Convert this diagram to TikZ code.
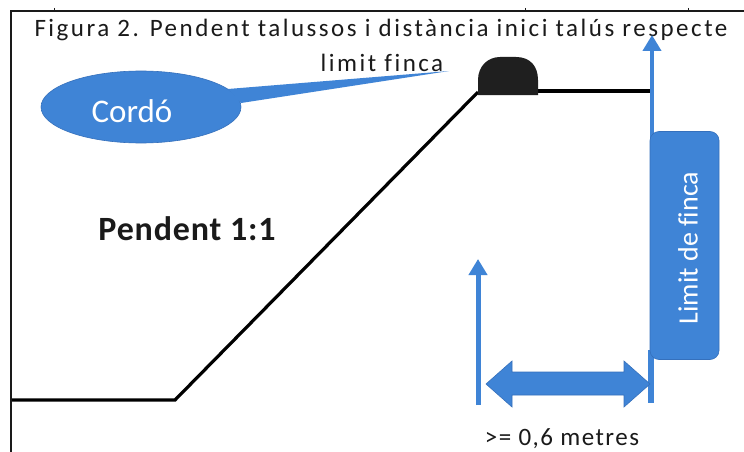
\documentclass[tikz,border=0pt]{standalone}
\usepackage{fontspec}
\setmainfont[Ligatures=NoCommon]{Carlito}
\newfontfamily\spaced[LetterSpace=10,Ligatures=NoCommon]{Carlito}
\newfontfamily\spacedb[LetterSpace=6,Ligatures=NoCommon]{Carlito}
\newfontfamily\spacedbold[LetterSpace=2.5,Ligatures=NoCommon]{Carlito Bold}
\usetikzlibrary{shapes.geometric,arrows.meta}
\definecolor{bluefill}{HTML}{3F84D6}
\definecolor{blueedge}{HTML}{3570BC}
\definecolor{inkc}{HTML}{1A1A1A}
\tikzset{
  frameline/.style={draw=inkc,line width=1.4pt},
  ground/.style={draw=black,line width=3.2pt,line join=miter},
  bluearrow/.style={draw=bluefill,line width=4.5pt,-{Triangle[length=16pt,width=18pt]}},
  blueline/.style={draw=bluefill,line width=6pt},
  bluebox/.style={fill=bluefill,draw=blueedge,line width=.6pt},
  lab/.style={text=inkc,inner sep=0pt},
  wlab/.style={text=white,inner sep=0pt},
}
\begin{document}
\begin{tikzpicture}[x=1pt,y=-1pt]
\useasboundingbox (0,0) rectangle (744,452);
\fill[white] (0,0) rectangle (744,452);
% frame
\coordinate (ftl) at (11,11);
\coordinate (ftr) at (744,11);
\coordinate (fbl) at (11,452);
\draw[frameline] (ftr) -- (ftl) -- (fbl);
\draw[inkc,line width=1pt] (54,8) -- (54,11) (525,8) -- (525,11) (688,8) -- (688,11);
% title
\node[lab,font=\spaced\fontsize{25}{30}\selectfont] (title1) at (381,30) {Figura 2. Pendent talussos i distància inici talús respecte};
\node[lab,font=\spaced\fontsize{25}{30}\selectfont] (title2) at (382,63) {limit finca};
% callout
\coordinate (tip) at (449,71);
\coordinate (t1) at (228,89);
\coordinate (t2) at (241,103);
\node[ellipse,bluebox,minimum width=200pt,minimum height=72pt,inner sep=0pt] (cordo) at (141,107) {};
\fill[bluefill] (t1) -- (tip) -- (t2) -- cycle;
\node[wlab,font=\fontsize{33}{40}\selectfont] (cordol) at (132,111) {Cordó};
% ground profile
\coordinate (g0) at (12,400);
\coordinate (g1) at (175,400);
\coordinate (g2) at (478,92);
\coordinate (g3) at (538,91);
\coordinate (g4) at (650,91);
\draw[ground] (g0) -- (g1) -- (g2);
\draw[ground] (g3) -- (g4);
\fill[black!88] (478,95) -- (478,80) .. controls (478,66) and (488,57) .. (500,57) -- (516,57) .. controls (530,57) and (538,66) .. (538,80) -- (538,95) -- cycle;
% bold label
\node[lab,font=\spacedbold\fontsize{34}{41}\selectfont] (pend) at (187,229) {Pendent 1:1};
% limit arrow and box
\coordinate (la0) at (652,140);
\coordinate (la1) at (652,35);
\draw[bluearrow] (la0) -- (la1);
\coordinate (ll0) at (651,350);
\coordinate (ll1) at (651,403);
\draw[blueline] (ll0) -- (ll1);
\node[bluebox,rounded corners=9pt,minimum width=69pt,minimum height=228pt,inner sep=0pt] (lim) at (684.5,245.5) {};
\node[wlab,rotate=90,font=\fontsize{28}{34}\selectfont] (liml) at (688,248) {Limit de finca};
% left arrow
\coordinate (a0) at (478,405);
\coordinate (a1) at (478,259);
\draw[bluearrow,line width=5pt] (a0) -- (a1);
% double arrow
\coordinate (d0) at (486,384);
\coordinate (d1) at (650,384);
\path[bluebox,line join=miter] (d0) -- (512,361) -- (512,372) -- (624,372) -- (624,361) -- (d1) -- (624,407) -- (624,395) -- (512,395) -- (512,407) -- cycle;
% measure
\node[lab,font=\spacedb\fontsize{25}{30}\selectfont] (meas) at (562,439) {>= 0,6 metres};
\end{tikzpicture}
\end{document}
